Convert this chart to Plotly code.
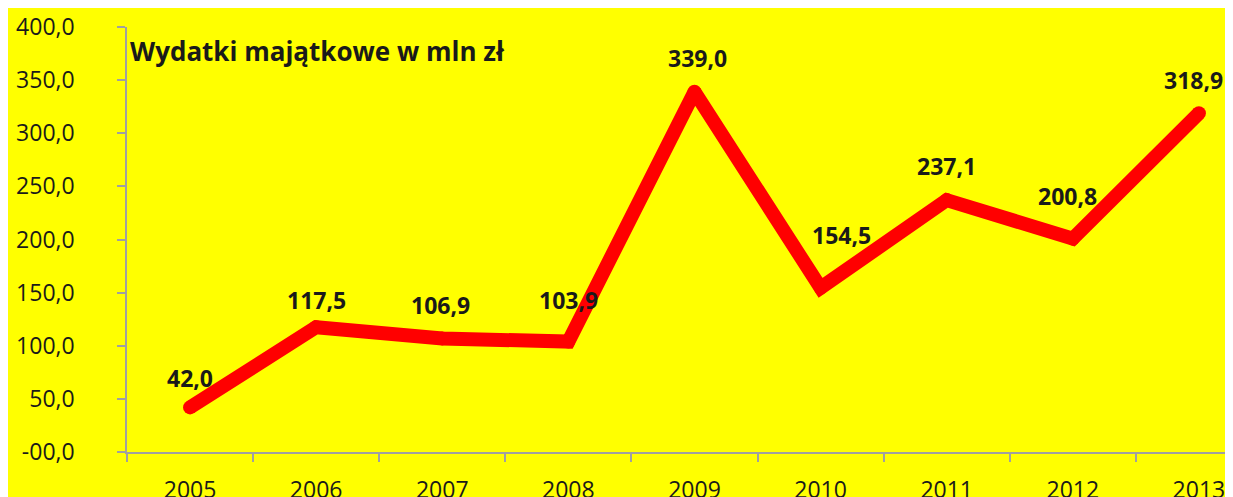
import plotly.graph_objects as go

# Data
YEARS = ["2005", "2006", "2007", "2008", "2009", "2010", "2011", "2012", "2013"]
SPENDING = [42.0, 117.5, 106.9, 103.9, 339.0, 154.5, 237.1, 200.8, 318.9]
Y_TICKS = [0, 50, 100, 150, 200, 250, 300, 350, 400]
Y_TICK_TEXT = ["-00,0", "50,0", "100,0", "150,0", "200,0", "250,0", "300,0", "350,0", "400,0"]
TITLE = "Wydatki majątkowe w mln zł"

# Palette
YELLOW = "#FFFF00"
RED = "#FF0000"
AXIS = "#A0A0A0"
TEXT = "#1A1A1A"
FONT = "Open Sans"

# label nudges (px) so the numbers sit like the original
LABEL_DX = [0, 0, -2, 0, 3, 21, 0, -5, -5]
LABEL_DY = [29, 27, 33, 42, 34, 53, 34, 43, 33]

fig = go.Figure()
fig.add_trace(go.Scatter(
    x=YEARS,
    y=SPENDING,
    mode="lines+markers",
    line=dict(color=RED, width=14),
    marker=dict(color=RED, size=14, line=dict(width=0)),
    hoverinfo="skip",
    showlegend=False,
    cliponaxis=False,
))

# category axis: annotations are placed by category index
for i, (v, dx, dy) in enumerate(zip(SPENDING, LABEL_DX, LABEL_DY)):
    fig.add_annotation(
        x=i, y=v, text=f"{v:.1f}".replace(".", ","),
        showarrow=False, xshift=dx, yshift=dy,
        font=dict(family=FONT, size=23, color=TEXT, weight="bold"),
    )

fig.add_annotation(
    xref="paper", yref="paper", x=0.001, y=0.943, xanchor="left", yanchor="middle",
    text=TITLE, showarrow=False,
    font=dict(family=FONT, size=26, color=TEXT, weight="bold"),
)

fig.update_layout(
    width=1217, height=497,
    margin=dict(l=119, r=0, t=19, b=53),
    paper_bgcolor=YELLOW,
    plot_bgcolor=YELLOW,
    font=dict(family=FONT, color=TEXT),
    xaxis=dict(
        type="category", range=[-0.5, 8.207], automargin=False,
        tickson="boundaries", ticks="outside", ticklen=8, tickcolor=AXIS, tickwidth=1.5,
        showline=True, linecolor=AXIS, linewidth=1.5, showgrid=False, zeroline=False,
        tickfont=dict(family=FONT, size=23, color=TEXT), ticklabelstandoff=17,
    ),
    yaxis=dict(
        range=[0, 400], tickvals=Y_TICKS, ticktext=Y_TICK_TEXT, automargin=False,
        ticks="outside", ticklen=8, tickcolor=AXIS, tickwidth=1.5,
        showline=True, linecolor=AXIS, linewidth=1.5, showgrid=False, zeroline=False,
        tickfont=dict(family=FONT, size=23, color=TEXT), ticklabelstandoff=38,
    ),
)

fig.write_html("out.html")
